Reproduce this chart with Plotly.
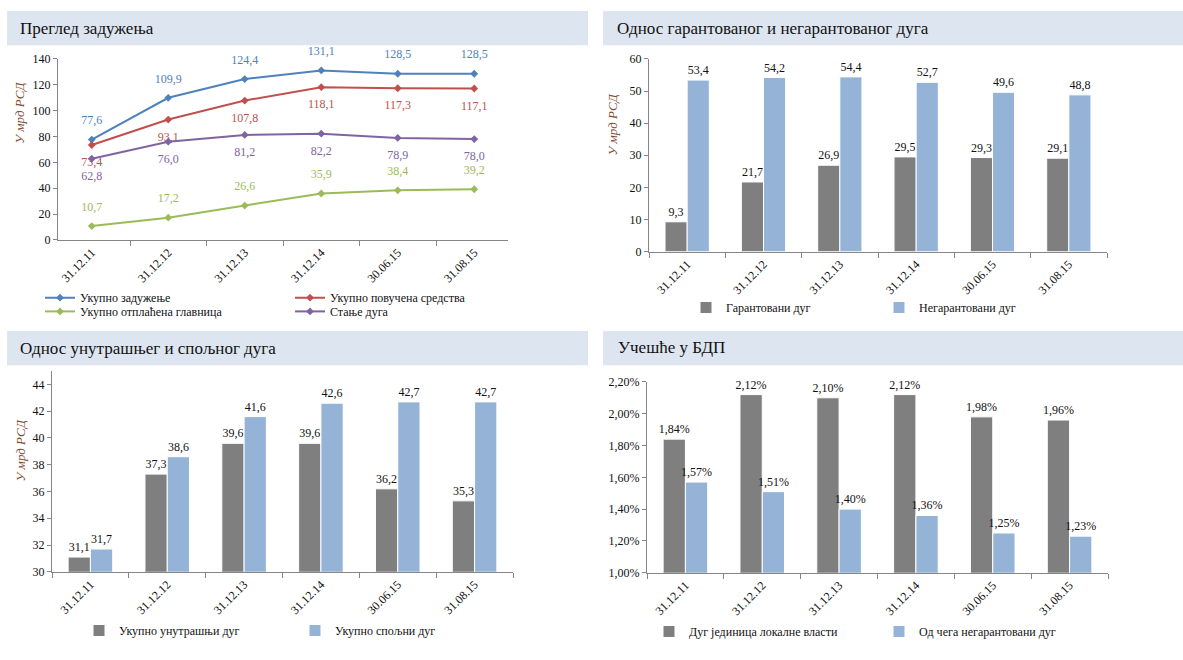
import plotly.graph_objects as go

# Reporting dates
dates = ["31.12.11", "31.12.12", "31.12.13", "31.12.14", "30.06.15", "31.08.15"]

# Panel 1: debt overview (billion RSD)
total_debt = [77.6, 109.9, 124.4, 131.1, 128.5, 128.5]
drawn_funds = [73.4, 93.1, 107.8, 118.1, 117.3, 117.1]
repaid_principal = [10.7, 17.2, 26.6, 35.9, 38.4, 39.2]
debt_balance = [62.8, 76.0, 81.2, 82.2, 78.9, 78.0]

# Panel 2: guaranteed vs non-guaranteed debt (billion RSD)
guaranteed = [9.3, 21.7, 26.9, 29.5, 29.3, 29.1]
non_guaranteed = [53.4, 54.2, 54.4, 52.7, 49.6, 48.8]

# Panel 3: domestic vs foreign debt (billion RSD)
domestic = [31.1, 37.3, 39.6, 39.6, 36.2, 35.3]
foreign = [31.7, 38.6, 41.6, 42.6, 42.7, 42.7]

# Panel 4: share of GDP (%)
local_gov_debt_gdp = [1.84, 2.12, 2.10, 2.12, 1.98, 1.96]
non_guaranteed_gdp = [1.57, 1.51, 1.40, 1.36, 1.25, 1.23]

W, H = 1183, 660
SERIF = "Liberation Serif"
BLUE, RED, GREEN, PURPLE = "#4f81bd", "#c0504d", "#9bbb59", "#8064a2"
GREY, LIGHT_BLUE = "#7f7f7f", "#95b3d7"
AXIS = "#868686"
BAND = "#dde6f0"


def fx(px):
    return px / W


def fy(py):
    return 1 - py / H


fig = go.Figure()


def add_line(name, values, color, pos, legend):
    fig.add_trace(go.Scatter(
        x=dates, y=values, name=name, mode="lines+markers",
        line=dict(color=color, width=2),
        marker=dict(symbol="diamond", size=6, color=color),
        xaxis="x", yaxis="y", legend=legend,
    ))
    # value labels, offset from the points by a wider invisible marker
    fig.add_trace(go.Scatter(
        x=dates, y=values, mode="markers+text", showlegend=False, hoverinfo="skip",
        marker=dict(size=18, opacity=0, color=color),
        texttemplate="%{y:.1f}", textposition=pos,
        textfont=dict(family=SERIF, size=12, color=color),
        xaxis="x", yaxis="y", cliponaxis=False,
    ))


add_line("Укупно задужење", total_debt, BLUE, "top center", "legend")
add_line("Укупно повучена средства", drawn_funds, RED, "bottom center", "legend")
add_line("Укупно отплаћена главница", repaid_principal, GREEN, "top center", "legend2")
add_line("Стање дуга", debt_balance, PURPLE, "bottom center", "legend2")


def add_bar(name, values, color, ax, legend, fmt):
    fig.add_trace(go.Bar(
        x=dates, y=values, name=name,
        marker=dict(color=color, line=dict(color="white", width=1)),
        texttemplate=fmt, textposition="outside", constraintext="none",
        textfont=dict(family=SERIF, size=12, color="#111111"),
        xaxis="x" + ax, yaxis="y" + ax, legend=legend, cliponaxis=False,
    ))


add_bar("Гарантовани дуг", guaranteed, GREY, "2", "legend3", "%{y:.1f}")
add_bar("Негарантовани дуг", non_guaranteed, LIGHT_BLUE, "2", "legend3", "%{y:.1f}")
add_bar("Укупно унутрашњи дуг", domestic, GREY, "3", "legend4", "%{y:.1f}")
add_bar("Укупно спољни дуг", foreign, LIGHT_BLUE, "3", "legend4", "%{y:.1f}")
add_bar("Дуг јединица локалне власти", local_gov_debt_gdp, GREY, "4", "legend5", "%{y:.2f}%")
add_bar("Од чега негарантовани дуг", non_guaranteed_gdp, LIGHT_BLUE, "4", "legend5", "%{y:.2f}%")

tickfont = dict(family=SERIF, size=12, color="#111111")


def xaxis(x0, x1, anchor):
    return dict(domain=[fx(x0), fx(x1)], anchor=anchor, type="category",
                showline=True, linecolor=AXIS, linewidth=1,
                ticks="outside", tickson="boundaries", ticklen=5, tickcolor=AXIS,
                tickangle=-45, tickfont=tickfont, showgrid=False, fixedrange=True)


def yaxis(y0, y1, anchor, rng, dtick, **kw):
    d = dict(domain=[fy(y1), fy(y0)], anchor=anchor, range=rng, dtick=dtick,
             showline=True, linecolor=AXIS, linewidth=1,
             ticks="outside", ticklen=4, tickcolor=AXIS,
             tickfont=tickfont, showgrid=False, zeroline=False, fixedrange=True)
    d.update(kw)
    return d


def legend(x, y, entrywidth):
    return dict(orientation="h", x=fx(x), y=fy(y), xanchor="left", yanchor="middle",
                bgcolor="rgba(0,0,0,0)", font=dict(family=SERIF, size=12, color="#111111"),
                entrywidth=entrywidth, entrywidthmode="pixels", itemwidth=30,
                tracegroupgap=0, itemclick=False, itemdoubleclick=False)


# Title bands and panel titles
bands = [(7, 4, 588, 39), (603, 4, 1183, 39), (7, 331, 588, 366), (603, 331, 1183, 366)]
shapes = [dict(type="rect", xref="paper", yref="paper", x0=fx(a), x1=fx(c), y0=fy(d), y1=fy(b),
               fillcolor=BAND, line=dict(width=0), layer="below") for a, b, c, d in bands]

titles = [("Преглед задужења", 18, 22), ("Однос гарантованог и негарантованог дуга", 615, 22),
          ("Однос унутрашњег и спољног дуга", 18, 349), ("Учешће у БДП", 616, 348)]
annotations = [dict(text=t, x=fx(x), y=fy(y), xref="paper", yref="paper", xanchor="left",
                    yanchor="middle", showarrow=False,
                    font=dict(family=SERIF, size=17, color="#111111")) for t, x, y in titles]

for x, y in [(20, 108), (612, 120), (20, 453)]:
    annotations.append(dict(text="<i>У мрд РСД</i>", x=fx(x), y=fy(y), xref="paper", yref="paper",
                            textangle=-90, showarrow=False, xanchor="center", yanchor="middle",
                            font=dict(family=SERIF, size=13, color="#7f4a2f")))

fig.update_layout(
    width=W, height=H, margin=dict(l=0, r=0, t=0, b=0),
    paper_bgcolor="white", plot_bgcolor="white",
    separators=",.", barmode="group", bargap=0.42, bargroupgap=0,
    xaxis=xaxis(58, 508, "y"),
    yaxis=yaxis(53, 238, "x", [0, 140], 20),
    xaxis2=xaxis(649, 1107, "y2"),
    yaxis2=yaxis(53, 250, "x2", [0, 60], 10),
    xaxis3=xaxis(52, 513, "y3"),
    yaxis3=yaxis(372, 577, "x3", [30, 45], 2, tick0=30),
    xaxis4=xaxis(647, 1108, "y4"),
    yaxis4=yaxis(383, 578, "x4", [1.0, 2.2], 0.2, tickformat=".2f", ticksuffix="%"),
    legend=legend(40, 297, 205),
    legend2=legend(40, 311, 205),
    legend3=legend(686, 307, 148),
    legend4=legend(79, 637, 171),
    legend5=legend(649, 638, 185),
    shapes=shapes, annotations=annotations,
)

fig.write_html("out.html")
